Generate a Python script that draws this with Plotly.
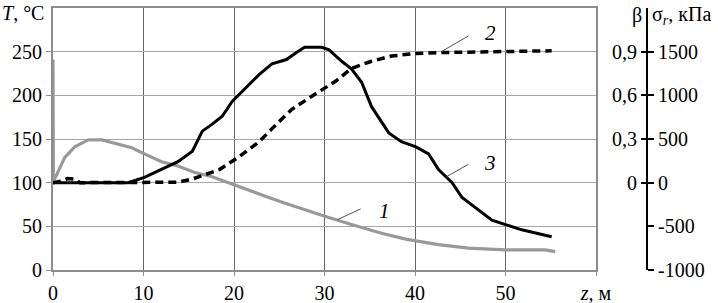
import plotly.graph_objects as go

# Curve 1: temperature T, °C (left axis)
z1 = [0, 0.05, 0.4, 1.3, 2.4, 3.9, 5.4, 6.8, 8.7, 10.1, 12, 13.8, 15.6, 17.5, 19.8, 21.5,
      23.6, 25.5, 27.2, 30.2, 32.7, 36.3, 39.1, 42.6, 45.9, 50, 54.4, 55.5]
T1 = [241, 102, 109, 129, 141, 149, 149, 145, 140, 133, 124, 119, 112, 107, 98, 92,
      84, 77, 71, 61, 53, 42, 35, 29, 25, 23, 23, 21]

# Curve 2: beta (right axis, left labels)
z2 = [0, 1, 1.6, 2.4, 3, 5, 8, 10, 12, 13.8, 15.4, 16.2, 18.4, 20.6, 22.8, 24.7, 26.4,
      28.6, 31.3, 33, 35.2, 37.4, 40.1, 43, 47.8, 55.1]
beta2 = [0, 0.012, 0.028, 0.024, 0, 0, 0, 0, 0, 0.003, 0.025, 0.042, 0.09, 0.18, 0.282,
         0.402, 0.504, 0.594, 0.70, 0.786, 0.834, 0.87, 0.888, 0.894, 0.90, 0.906]

# Curve 3: sigma_r, kPa (right axis, right labels)
z3 = [0, 2, 5, 8.3, 10.1, 12, 13.8, 15.4, 16.5, 17.6, 18.7, 19.8, 21.4, 22.8, 24.2, 25.8,
      26.9, 27.8, 29.7, 30.5, 31.9, 33, 34.1, 35.2, 37.1, 38.5, 40.1, 41.5, 42.6, 44.1,
      45.2, 47, 48.5, 50, 51.8, 55.1]
sig3 = [0, 0, 0, 0, 60, 150, 240, 360, 590, 670, 760, 930, 1100, 1240, 1360, 1410,
        1490, 1550, 1550, 1520, 1390, 1300, 1150, 870, 570, 470, 410, 330, 150, 0,
        -170, -310, -430, -480, -540, -620]

x_ticks = [0, 10, 20, 30, 40, 50, 60]
x_text = ["0", "10", "20", "30", "40", "50", "<i>z</i>, м"]
T_ticks = [0, 50, 100, 150, 200, 250]
T_text = ["0", "50", "100", "150", "200", "250"]
beta_ticks = [0, 0.3, 0.6, 0.9]
beta_text = ["0", "0,3", "0,6", "0,9"]
sig_ticks = [-1000, -500, 0, 500, 1000, 1500]
sig_text = ["-1000", "-500", "0", "500", "1000", "1500"]

FONT = "Liberation Serif"
FS = 20

fig = go.Figure()
fig.add_trace(go.Scatter(x=z1, y=T1, mode="lines", yaxis="y",
                         line=dict(color="#999999", width=3.2), showlegend=False))
fig.add_trace(go.Scatter(x=z2, y=beta2, mode="lines", yaxis="y3",
                         line=dict(color="black", width=3.5, dash="8px,5px"), showlegend=False))
fig.add_trace(go.Scatter(x=z3, y=sig3, mode="lines", yaxis="y2",
                         line=dict(color="black", width=3), showlegend=False))

# leader lines and curve numbers
leaders = [((31.4, 57.5), (34.0, 70.0), (36.6, 68), "1"),
           ((43.0, 250.6), (45.9, 268.0), (48.3, 271), "2"),
           ((43.5, 107.0), (45.9, 121.0), (48.3, 122), "3")]
for (xa, ya), (xb, yb), (xt, yt), txt in leaders:
    fig.add_shape(type="line", xref="x", yref="y", x0=xa, y0=ya, x1=xb, y1=yb,
                  line=dict(color="#555555", width=1))
    fig.add_annotation(x=xt, y=yt, xref="x", yref="y", text="<i>%s</i>" % txt,
                       showarrow=False, font=dict(family=FONT, size=FS + 1, color="black"))

# left axis title (top-left corner)
fig.add_annotation(x=0, y=1, xref="paper", yref="paper", text="<i>T</i>, °C",
                   xanchor="right", yanchor="top", xshift=-7, yshift=8,
                   showarrow=False, font=dict(family=FONT, size=FS, color="black"))

right_pos = 0.9818
fig.add_annotation(x=right_pos, y=1, xref="paper", yref="paper", text="β",
                   xanchor="right", yanchor="middle", yshift=-7, xshift=-3,
                   showarrow=False, font=dict(family=FONT, size=FS, color="black"))
fig.add_annotation(x=right_pos, y=1, xref="paper", yref="paper",
                   text="σ<sub><i>r</i></sub>, кПа",
                   xanchor="left", yanchor="middle", yshift=-7, xshift=3,
                   showarrow=False, font=dict(family=FONT, size=FS, color="black"))

fig.update_layout(
    width=718, height=303,
    margin=dict(l=53, r=60, t=8, b=33, autoexpand=False),
    paper_bgcolor="white", plot_bgcolor="white",
    font=dict(family=FONT, size=FS, color="black"),
    xaxis=dict(domain=[0, 543 / 605], range=[0, 60], tickvals=x_ticks, ticktext=x_text,
               showgrid=True, gridcolor="#666666", gridwidth=1, automargin=False,
               showline=True, linecolor="#8c8c8c", linewidth=2, mirror=True,
               ticks="outside", ticklen=4, tickcolor="#8c8c8c", zeroline=False,
               ticklabeloverflow="allow", tickfont=dict(family=FONT, size=FS)),
    yaxis=dict(range=[0, 300], tickvals=T_ticks, ticktext=T_text, automargin=False,
               showgrid=True, gridcolor="#a6a6a6", gridwidth=1,
               showline=True, linecolor="#8c8c8c", linewidth=2, mirror=True,
               ticks="outside", ticklen=5, tickcolor="#8c8c8c", zeroline=False,
               ticklabeloverflow="allow", tickfont=dict(family=FONT, size=FS)),
    yaxis2=dict(range=[-1000, 2000], overlaying="y", anchor="free", position=right_pos,
                side="right", tickvals=sig_ticks, ticktext=sig_text, automargin=False,
                showgrid=False, zeroline=False, showline=True, linecolor="black",
                linewidth=2, ticks="outside", ticklen=6, tickcolor="black", tickwidth=2,
                ticklabeloverflow="allow", tickfont=dict(family=FONT, size=FS)),
    yaxis3=dict(range=[-0.6, 1.2], overlaying="y", anchor="free", position=right_pos,
                side="left", tickvals=beta_ticks, ticktext=beta_text, automargin=False,
                showgrid=False, zeroline=False, showline=False,
                ticks="outside", ticklen=6, tickcolor="black", tickwidth=2,
                ticklabeloverflow="allow", tickfont=dict(family=FONT, size=FS)),
)

fig.write_html("out.html", config={"displayModeBar": False},
               post_script="document.body.style.margin='0';document.body.style.overflow='hidden';")
